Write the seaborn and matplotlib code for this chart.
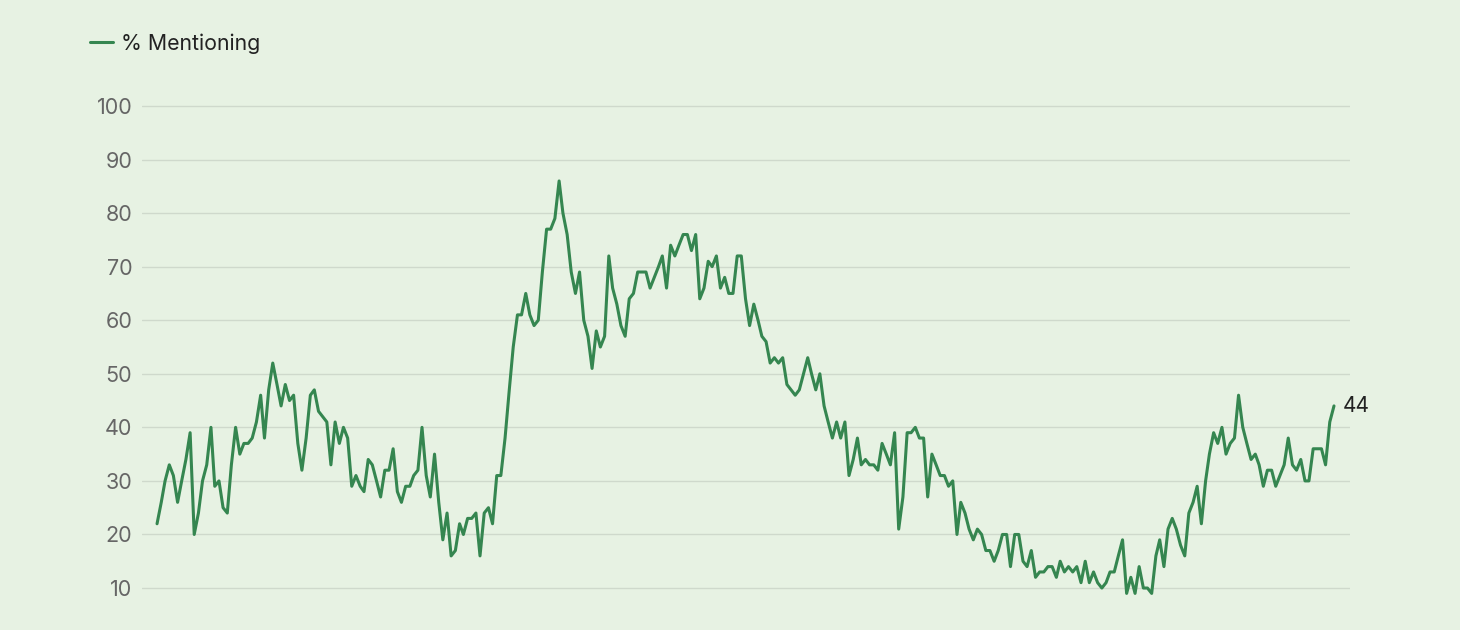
import pandas as pd
import matplotlib.pyplot as plt
import seaborn as sns

# ===== Data (monthly, % mentioning) =====
start_month = "2001-01-01"
pct_values = [
    22, 26, 30, 33, 31, 26, 30, 34, 39, 20, 24, 30, 33, 40, 29, 30, 25, 24, 33, 40,
    35, 37, 37, 38, 41, 46, 38, 47, 52, 48, 44, 48, 45, 46, 37, 32, 38, 46, 47, 43,
    42, 41, 33, 41, 37, 40, 38, 29, 31, 29, 28, 34, 33, 30, 27, 32, 32, 36, 28, 26,
    29, 29, 31, 32, 40, 31, 27, 35, 26, 19, 24, 16, 17, 22, 20, 23, 23, 24, 16, 24,
    25, 22, 31, 31, 38, 47, 55, 61, 61, 65, 61, 59, 60, 69, 77, 77, 79, 86, 80, 76,
    69, 65, 69, 60, 57, 51, 58, 55, 57, 72, 66, 63, 59, 57, 64, 65, 69, 69, 69, 66,
    68, 70, 72, 66, 74, 72, 74, 76, 76, 73, 76, 64, 66, 71, 70, 72, 66, 68, 65, 65,
    72, 72, 64, 59, 63, 60, 57, 56, 52, 53, 52, 53, 48, 47, 46, 47, 50, 53, 50, 47,
    50, 44, 41, 38, 41, 38, 41, 31, 34, 38, 33, 34, 33, 33, 32, 37, 35, 33, 39, 21,
    27, 39, 39, 40, 38, 38, 27, 35, 33, 31, 31, 29, 30, 20, 26, 24, 21, 19, 21, 20,
    17, 17, 15, 17, 20, 20, 14, 20, 20, 15, 14, 17, 12, 13, 13, 14, 14, 12, 15, 13,
    14, 13, 14, 11, 15, 11, 13, 11, 10, 11, 13, 13, 16, 19, 9, 12, 9, 14, 10, 10,
    9, 16, 19, 14, 21, 23, 21, 18, 16, 24, 26, 29, 22, 30, 35, 39, 37, 40, 35, 37,
    38, 46, 40, 37, 34, 35, 33, 29, 32, 32, 29, 31, 33, 38, 33, 32, 34, 30, 30, 36,
    36, 36, 33, 41, 44,
]
y_ticks = [10, 20, 30, 40, 50, 60, 70, 80, 90, 100]
series_name = "% Mentioning"

months = pd.date_range(start_month, periods=len(pct_values), freq="MS")
df = pd.DataFrame({"month": months, "pct": pct_values})

# ===== Style =====
bg = "#E7F2E3"
line_color = "#358650"
sns.set_theme(style="white")
plt.rcParams["font.family"] = ["Inter", "DejaVu Sans"]

fig = plt.figure(figsize=(14.6, 6.3), dpi=100, facecolor=bg)
ax = fig.add_axes([0.0973, 0.0071, 0.8274, 0.8332])
ax.set_facecolor(bg)

sns.lineplot(data=df, x="month", y="pct", ax=ax, color=line_color,
             linewidth=2.2, label=series_name)

# ===== Axes =====
ax.set_xlim(months[0] - pd.DateOffset(days=110), months[-1] + pd.DateOffset(days=118))
ax.set_ylim(3, 101)
ax.set_yticks(y_ticks)
ax.set_yticklabels([str(t) for t in y_ticks], fontsize=15.5, color="#666666")
ax.set_xticks([])
ax.set_xlabel("")
ax.set_ylabel("")
ax.tick_params(axis="y", length=0, pad=7)
ax.grid(axis="y", color="#CFD9CC", linewidth=1)
for s in ax.spines.values():
    s.set_visible(False)

# end label
ax.annotate(str(pct_values[-1]), xy=(months[-1], pct_values[-1]),
            xytext=(6, 0), textcoords="offset points", va="center", ha="left",
            fontsize=15, color="#222222")

# legend top-left
ax.legend(loc="center left", bbox_to_anchor=(0.0616, 0.931),
          bbox_transform=fig.transFigure, frameon=False, fontsize=15.3,
          handlelength=1.1, handletextpad=0.35, borderpad=0, borderaxespad=0,
          labelcolor="#222222")

fig.savefig("out.png", dpi=100, facecolor=bg)
plt.close(fig)
